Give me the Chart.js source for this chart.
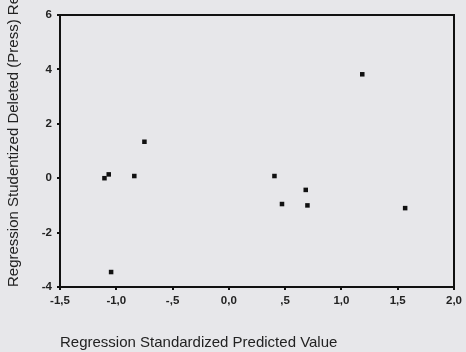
<!DOCTYPE html>
<html>
<head>
<meta charset="utf-8">
<script src="https://cdn.jsdelivr.net/npm/chart.js@4/dist/chart.umd.min.js"></script>
<style>
  html, body { margin: 0; padding: 0; background: #e7e7ea; }
  #wrap { width: 466px; height: 352px; }
</style>
</head>
<body>
<div id="wrap"><canvas id="c"></canvas></div>
<script>
// standardized predicted value vs studentized deleted residual
const predicted = [-0.75, -1.105, -1.067, -0.84, -1.046, 0.405, 1.185, 0.683, 0.472, 0.698, 1.566];
const residual  = [1.34, 0.0, 0.14, 0.08, -3.45, 0.08, 3.82, -0.43, -0.95, -1.0, -1.10];

const xTitle = 'Regression Standardized Predicted Value';
const yTitle = 'Regression Studentized Deleted (Press) Residual';

function fmtTick(v) {
  let s = (Math.round(v * 10) / 10).toFixed(1).replace('.', ',');
  if (s.startsWith('0,') && v !== 0) s = s.slice(1);
  if (s.startsWith('-0,')) s = '-' + s.slice(2);
  return s;
}

const frame = {
  id: 'frame',
  afterDraw(chart) {
    const a = chart.chartArea, ctx = chart.ctx;
    ctx.save();
    ctx.strokeStyle = '#111';
    ctx.lineWidth = 2;
    ctx.strokeRect(a.left, a.top, a.right - a.left, a.bottom - a.top);
    ctx.restore();
  }
};

const font = { family: 'Liberation Sans, Arial, sans-serif' };

new Chart(document.getElementById('c'), {
  type: 'scatter',
  data: {
    datasets: [{
      data: predicted.map((x, i) => ({ x, y: residual[i] })),
      pointStyle: 'rect',
      pointRadius: 3.2,
      backgroundColor: '#111',
      borderColor: '#111',
      borderWidth: 0,
    }],
  },
  options: {
    responsive: true,
    maintainAspectRatio: false,
    animation: false,
    layout: { padding: { top: 15, right: 7, left: 0, bottom: 0 } },
    plugins: { legend: { display: false }, tooltip: { enabled: false } },
    scales: {
      x: {
        min: -1.5, max: 2,
        ticks: { stepSize: 0.5, color: '#222', font: { ...font, size: 11.5, weight: 'bold' }, padding: 4, callback: v => fmtTick(v), maxRotation: 0 },
        grid: { drawOnChartArea: false, tickLength: 3, color: '#111', lineWidth: 2 },
        border: { color: '#111', width: 2 },
        title: { display: true, text: xTitle, align: 'start', color: '#222', font: { ...font, size: 15 }, padding: { top: 22, bottom: 0 } },
        afterFit: s => { s.height = 65; },
      },
      y: {
        min: -4, max: 6,
        ticks: { stepSize: 2, color: '#222', font: { ...font, size: 11.5, weight: 'bold' }, padding: 5 },
        grid: { drawOnChartArea: false, tickLength: 3, color: '#111', lineWidth: 2 },
        border: { color: '#111', width: 2 },
        title: { display: true, text: yTitle, align: 'start', color: '#222', font: { ...font, size: 15 }, padding: { top: 5, bottom: 0 } },
        afterFit: s => { s.width = 60; },
      },
    },
  },
  plugins: [frame],
});
</script>
</body>
</html>
